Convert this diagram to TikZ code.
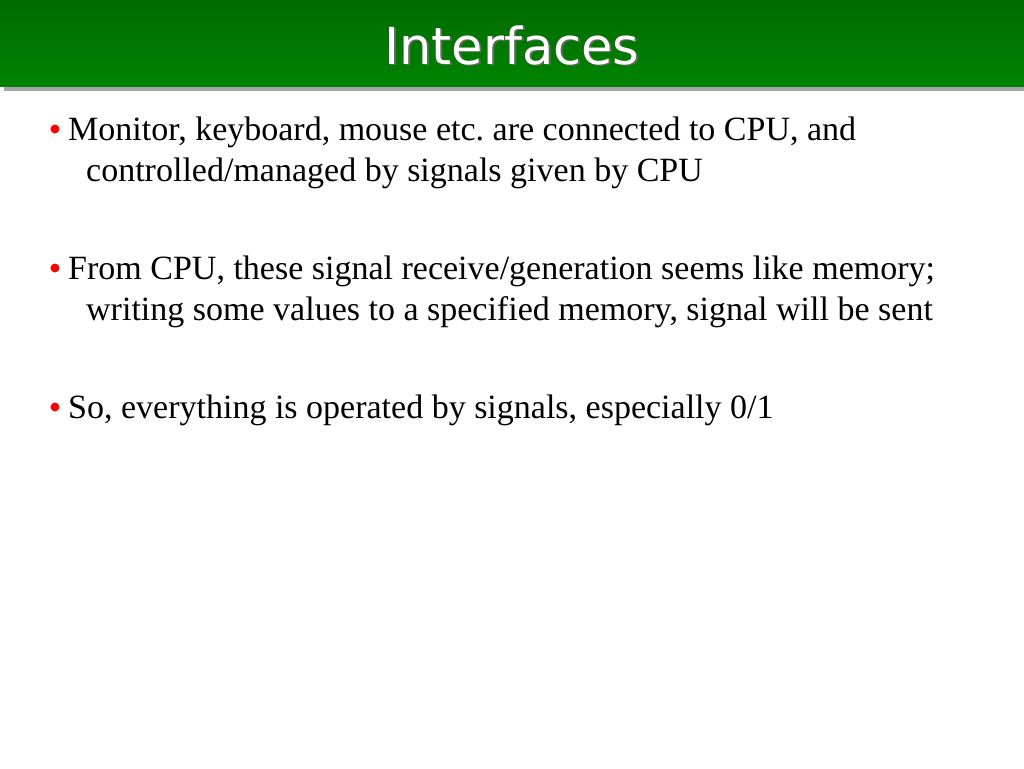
\documentclass[tikz,border=0pt]{standalone}
\usepackage{fontspec}
\setmainfont{Liberation Serif}
\newfontfamily\titlefont{DejaVu Sans}
\definecolor{gtop}{HTML}{006A00}
\definecolor{gbot}{HTML}{008400}
\frenchspacing
\begin{document}
\begin{tikzpicture}[x=1pt,y=-1pt,
  txt/.style={anchor=base west,inner sep=0pt,font=\fontsize{34}{42}\selectfont},
  dot/.style={circle,fill=red,inner sep=0pt,minimum size=9pt}]
\useasboundingbox (0,0) rectangle (1024,768);
\fill[gray!70] (4,86) rectangle (1024,91);
\shade[top color=gtop,bottom color=gbot] (0,0) rectangle (1024,86);
\node[font=\titlefont\fontsize{51}{51}\selectfont,text=black!60,anchor=base] at (514,66) {Interfaces};
\node (title) [font=\titlefont\fontsize{51}{51}\selectfont,text=white,anchor=base] at (512,64) {Interfaces};
\node (d1) [dot] at (55,129) {};
\node (b1) [txt] at (68,140) {Monitor, keyboard, mouse etc. are connected to CPU, and};
\node (b1b) [txt] at (86,181) {controlled/managed by signals given by CPU};
\node (d2) [dot] at (55,268) {};
\node (b2) [txt] at (68,279) {From CPU, these signal receive/generation seems like memory;};
\node (b2b) [txt] at (86,320) {writing some values to a specified memory, signal will be sent};
\node (d3) [dot] at (55,407) {};
\node (b3) [txt] at (68,418) {So, everything is operated by signals, especially 0/1};
\end{tikzpicture}
\end{document}
